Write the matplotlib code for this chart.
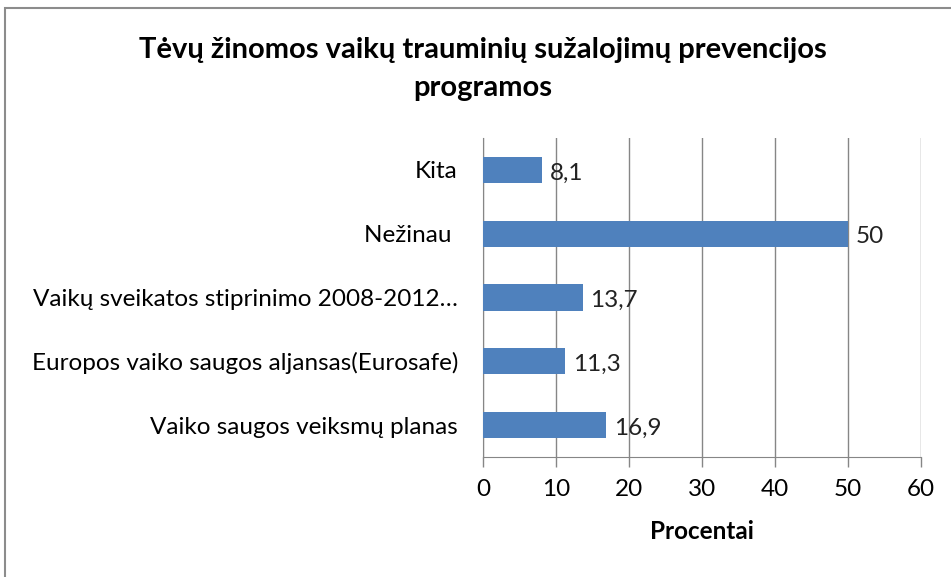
import matplotlib.pyplot as plt
from matplotlib.patches import Rectangle

# duomenys
categories = ['Vaiko saugos veiksmų planas',
              'Europos vaiko saugos aljansas(Eurosafe)',
              'Vaikų sveikatos stiprinimo 2008-2012…',
              'Nežinau ',
              'Kita']
values = [16.9, 11.3, 13.7, 50, 8.1]
value_labels = ['16,9', '11,3', '13,7', '50', '8,1']
xticks = [0, 10, 20, 30, 40, 50, 60]

plt.rcParams['font.family'] = ['Lato', 'DejaVu Sans']
fs = 17.5

fig = plt.figure(figsize=(9.51, 5.77), dpi=100)
ax = fig.add_axes([483/951, 1 - 457/577, (921 - 483)/951, (457 - 138)/577])

# remelis aplink diagrama
fig.patches.append(Rectangle((5/951, -0.05), 1.1, 1.05 - 8/577,
                             transform=fig.transFigure, fill=False,
                             edgecolor='#8c8c8c', linewidth=1.5))

ypos = range(len(categories))
ax.barh(ypos, values, height=0.41, color='#4F81BD', zorder=3)
for y, v, lab in zip(ypos, values, value_labels):
    ax.text(v + 1.0, y - 0.05, lab, va='center', ha='left', fontsize=fs, color='#222222')

ax.set_xlim(0, 60)
ax.set_ylim(-0.5, len(categories) - 0.5)
ax.set_xticks(xticks)
ax.set_yticks(list(ypos))
ax.set_yticklabels(categories)
ax.tick_params(axis='y', length=0, pad=18, labelsize=fs)
ax.tick_params(axis='x', length=7, width=1, color='#868686', labelsize=fs, pad=9)
ax.grid(axis='x', color='#868686', linewidth=1, zorder=0)
for s in ['top', 'right']:
    ax.spines[s].set_visible(False)
ax.spines['left'].set_color('#868686')
ax.spines['bottom'].set_color('#868686')

ax.set_xlabel('Procentai', fontsize=fs, fontweight='bold', labelpad=14)
fig.text(483/951, 1 - 50/577, 'Tėvų žinomos vaikų trauminių sužalojimų prevencijos', ha='center', va='center',
         fontsize=21, fontweight='bold')
fig.text(483/951, 1 - 88/577, 'programos', ha='center', va='center',
         fontsize=21, fontweight='bold')

plt.savefig('out.png', dpi=100)
